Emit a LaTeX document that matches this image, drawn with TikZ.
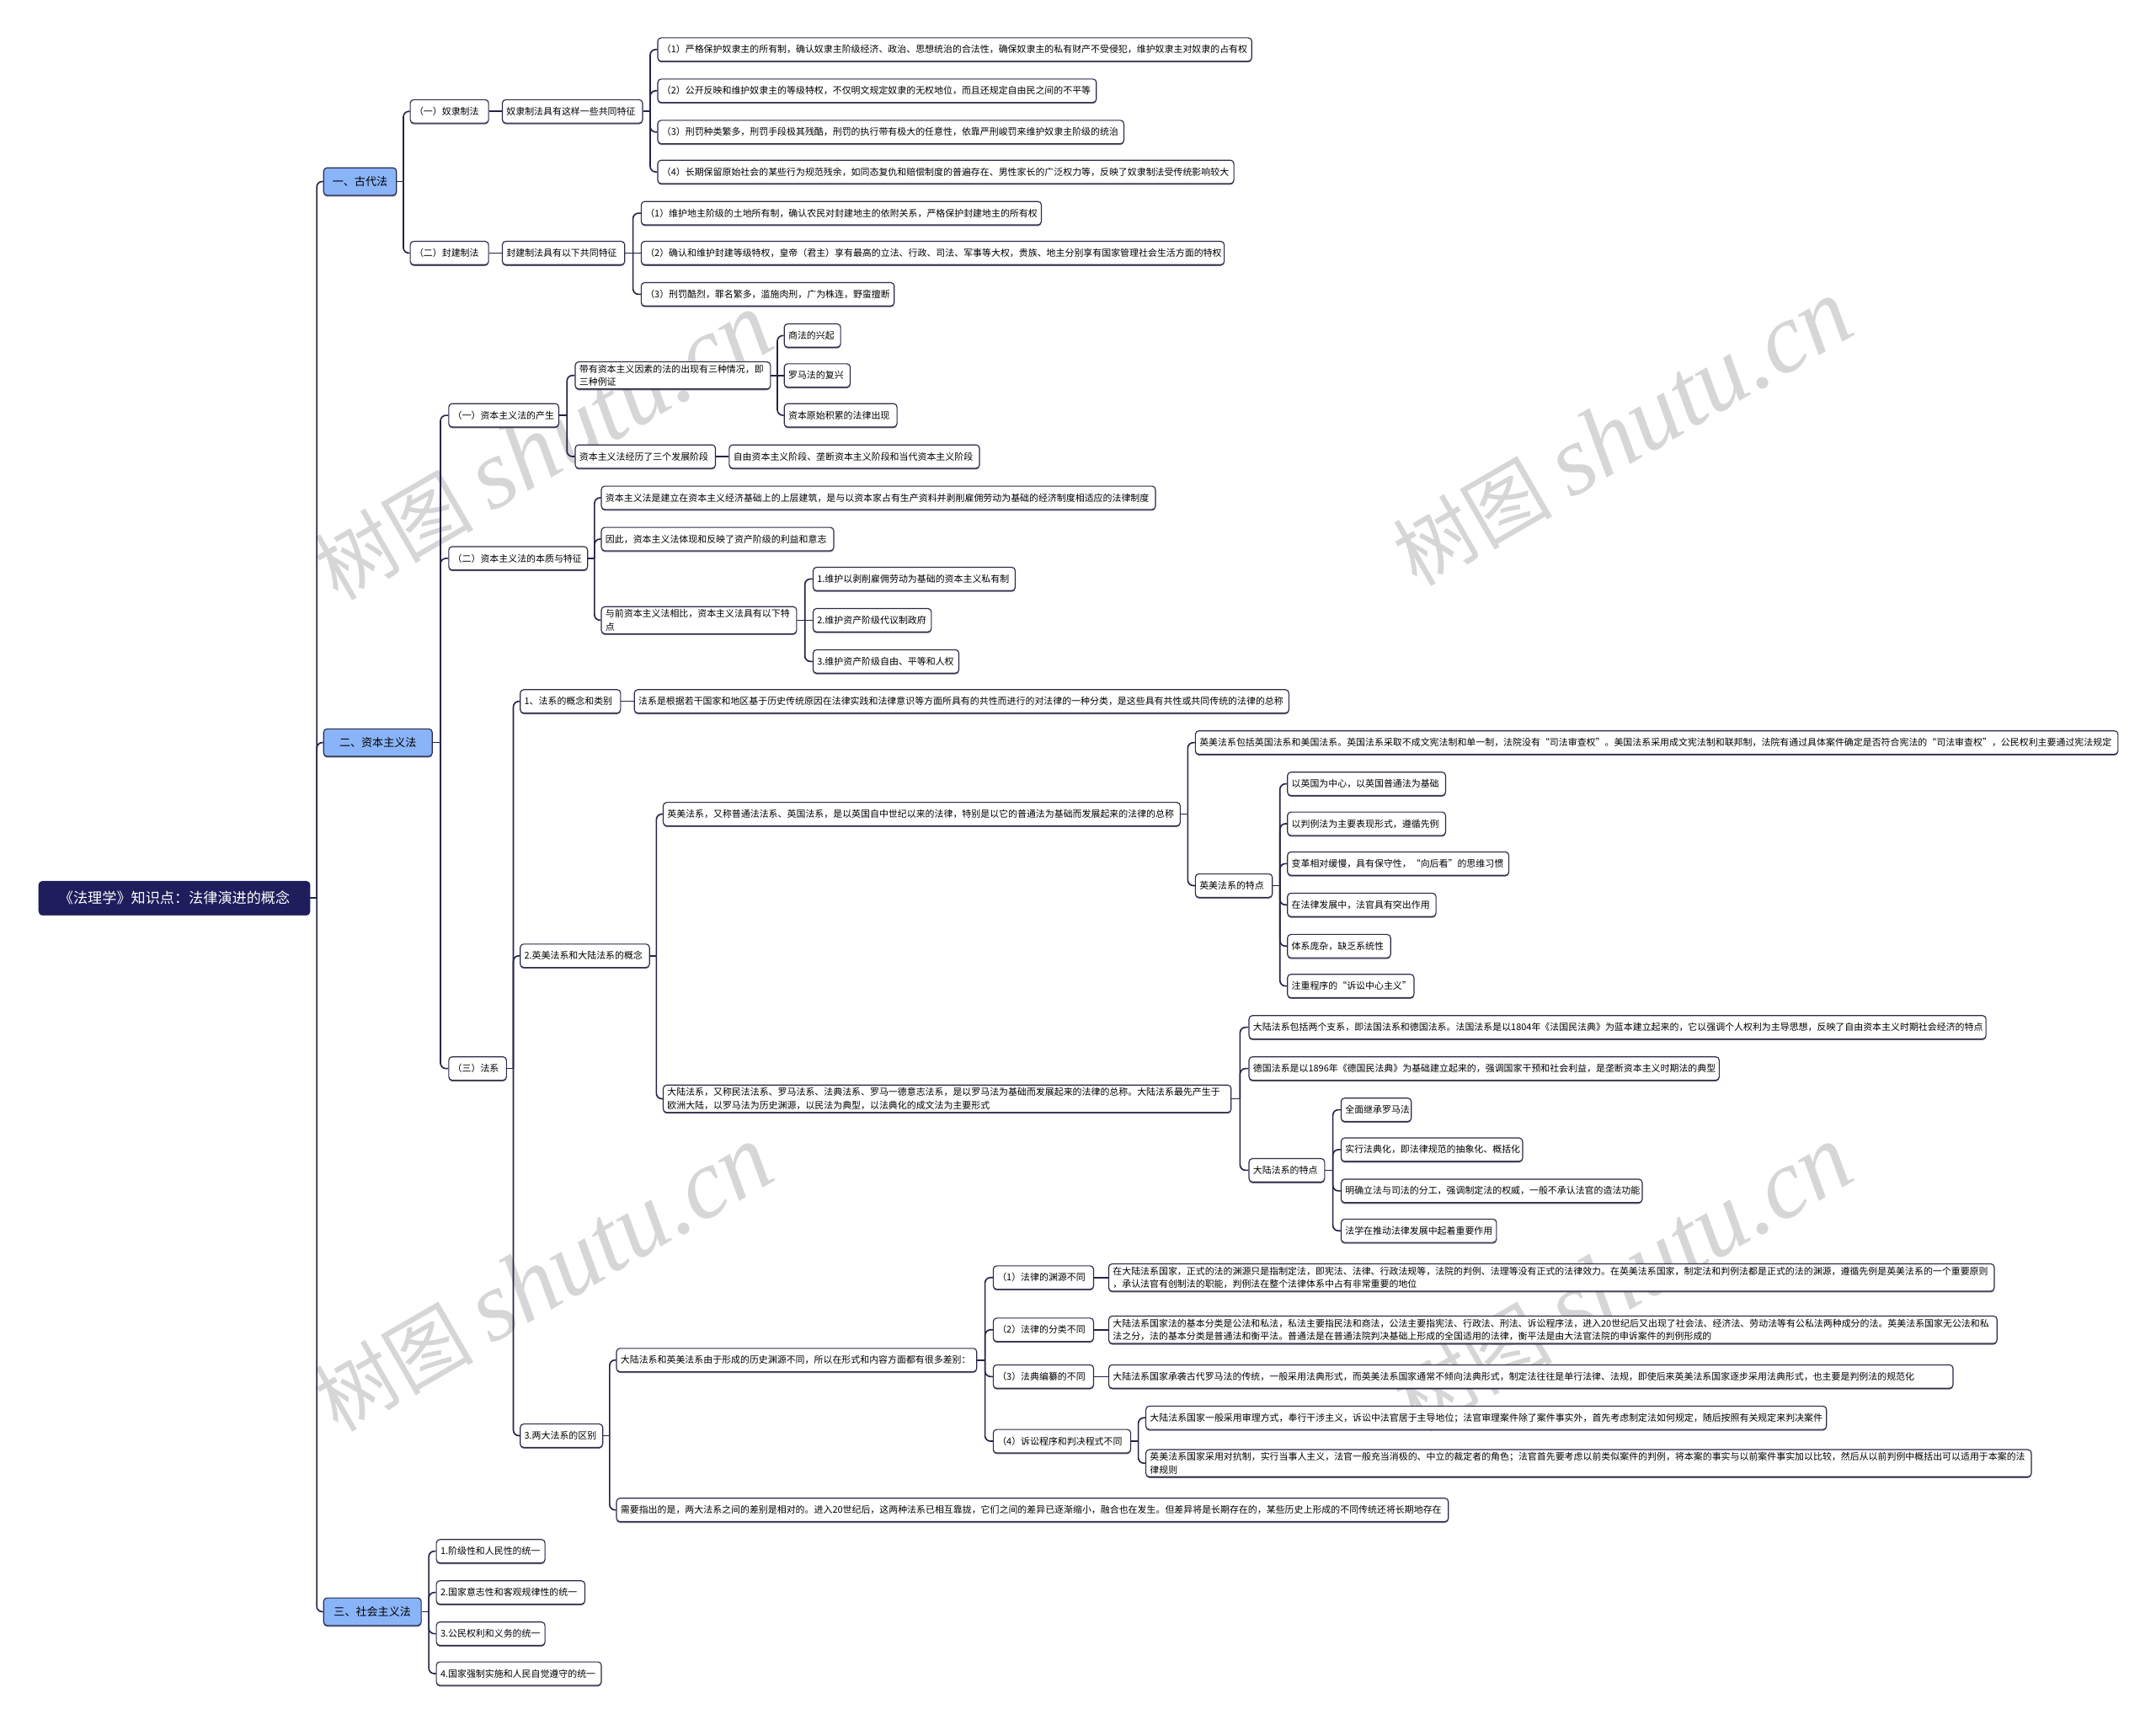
\documentclass[tikz,border=0pt]{standalone}
\usepackage{fontspec}
\setmainfont{Noto Sans CJK SC}
\newfontfamily\wmserif{Liberation Serif}
\usetikzlibrary{calc,shadows}
\definecolor{navy}{HTML}{1F1D5C}
\definecolor{lblue}{HTML}{8AB4F8}
\definecolor{edgec}{HTML}{2A2A48}
\definecolor{connc}{HTML}{232347}
\tikzset{
  base/.style={draw=edgec, line width=0.7pt, rounded corners=2.5pt, inner xsep=3pt, inner ysep=2pt,
    minimum height=17pt, fill=white,
    drop shadow={shadow xshift=0pt, shadow yshift=-0.9pt, fill=edgec, opacity=0.7}},
  leafbox/.style={base, align=left, anchor=west, font=\fontsize{6.7}{9.5}\selectfont},
  lonebox/.style={base, fill=lblue, anchor=west, minimum height=20pt, font=\fontsize{8}{10}\selectfont},
  rootbox/.style={base, fill=navy, draw=navy, text=white, anchor=west, minimum height=24pt, font=\fontsize{10.5}{12}\selectfont},
  conn/.style={draw=connc, line width=1pt},
  elbow/.style={conn, rounded corners=4pt},
  wm/.style={rotate=30, text=black!16, inner sep=0pt}
}
\newcommand{\leaf}[5]{\pgfmathsetmacro\tw{#4-6}\node[leafbox, text width=\tw pt] (#1) at (#2,#3) {#5};}
\newcommand{\branch}[3]{%
  \coordinate (#1-j) at ($(#1.east)!0.5!(#1.east -| #2.west)$);
  \draw[conn] (#1.east) -- (#1-j);
  \foreach \c in {#3} {\draw[elbow] (#1-j) |- (\c.west);}
}
\newcommand{\straight}[2]{\draw[conn] (#1.east) -- (#2.west);}
\begin{document}
\begin{tikzpicture}[x=1pt,y=-1pt]
\useasboundingbox (0,0) rectangle (1568,1254);
% watermarks
\foreach \wx/\wy in {395/325, 1180/315, 395/930, 1180/930}{
  \node[wm] at (\wx,\wy) {\fontsize{58}{60}\selectfont 树图 {\wmserif\itshape\fontsize{72}{74}\selectfont shutu.cn}};
}
% root and level 1
\node[rootbox, minimum width=197pt] (R) at (28,653) {《法理学》知识点：法律演进的概念};
\node[lonebox, minimum width=53pt] (A) at (235,132) {一、古代法};
\node[lonebox, minimum width=79pt] (B) at (235,540) {二、资本主义法};
\node[lonebox, minimum width=71pt] (C) at (235,1172) {三、社会主义法};
% ancient law
\leaf{A1}{298}{81}{57}{（一）奴隶制法}
\leaf{A2}{298}{184}{57}{（二）封建制法}
\leaf{A1a}{365}{81}{102}{奴隶制法具有这样一些共同特征}
\leaf{A2a}{365}{184}{89}{封建制法具有以下共同特征}
\leaf{A1a1}{478}{36}{432}{（1）严格保护奴隶主的所有制，确认奴隶主阶级经济、政治、思想统治的合法性，确保奴隶主的私有财产不受侵犯，维护奴隶主对奴隶的占有权}
\leaf{A1a2}{478}{66}{319}{（2）公开反映和维护奴隶主的等级特权，不仅明文规定奴隶的无权地位，而且还规定自由民之间的不平等}
\leaf{A1a3}{478}{96}{339}{（3）刑罚种类繁多，刑罚手段极其残酷，刑罚的执行带有极大的任意性，依靠严刑峻罚来维护奴隶主阶级的统治}
\leaf{A1a4}{478}{125}{419}{（4）长期保留原始社会的某些行为规范残余，如同态复仇和赔偿制度的普遍存在、男性家长的广泛权力等，反映了奴隶制法受传统影响较大}
\leaf{A2a1}{466}{155}{291}{（1）维护地主阶级的土地所有制，确认农民对封建地主的依附关系，严格保护封建地主的所有权}
\leaf{A2a2}{466}{184}{424}{（2）确认和维护封建等级特权，皇帝（君主）享有最高的立法、行政、司法、军事等大权，贵族、地主分别享有国家管理社会生活方面的特权}
\leaf{A2a3}{466}{214}{184}{（3）刑罚酷烈，罪名繁多，滥施肉刑，广为株连，野蛮擅断}
% capitalist law
\leaf{B1}{326}{302}{80}{（一）资本主义法的产生}
\leaf{B2}{326}{406}{101}{（二）资本主义法的本质与特征}
\leaf{B3}{326}{777}{42}{（三）法系}
\leaf{B1a}{418}{273}{142}{带有资本主义因素的法的出现有三种情况，即\\三种例证}
\leaf{B1b}{418}{332}{102}{资本主义法经历了三个发展阶段}
\leaf{B1a1}{570}{244}{41}{商法的兴起}
\leaf{B1a2}{570}{273}{48}{罗马法的复兴}
\leaf{B1a3}{570}{302}{82}{资本原始积累的法律出现}
\leaf{B1b1}{530}{332}{182}{自由资本主义阶段、垄断资本主义阶段和当代资本主义阶段}
\leaf{B2a}{437}{362}{403}{资本主义法是建立在资本主义经济基础上的上层建筑，是与以资本家占有生产资料并剥削雇佣劳动为基础的经济制度相适应的法律制度}
\leaf{B2b}{437}{392}{169}{因此，资本主义法体现和反映了资产阶级的利益和意志}
\leaf{B2c}{437}{451}{142}{与前资本主义法相比，资本主义法具有以下特\\点}
\leaf{B2c1}{591}{421}{147}{1.维护以剥削雇佣劳动为基础的资本主义私有制}
\leaf{B2c2}{591}{451}{86}{2.维护资产阶级代议制政府}
\leaf{B2c3}{591}{481}{106}{3.维护资产阶级自由、平等和人权}
\leaf{B3a}{378}{510}{73}{1、法系的概念和类别}
\leaf{B3a1}{461}{510}{476}{法系是根据若干国家和地区基于历史传统原因在法律实践和法律意识等方面所具有的共性而进行的对法律的一种分类，是这些具有共性或共同传统的法律的总称}
\leaf{B3b}{378}{695}{94}{2.英美法系和大陆法系的概念}
\leaf{B3c}{378}{1044}{60}{3.两大法系的区别}
\leaf{B3b1}{482}{592}{376}{英美法系，又称普通法法系、英国法系，是以英国自中世纪以来的法律，特别是以它的普通法为基础而发展起来的法律的总称}
\leaf{B3b2}{482}{799}{413}{大陆法系，又称民法法系、罗马法系、法典法系、罗马一德意志法系，是以罗马法为基础而发展起来的法律的总称。大陆法系最先产生于\\欧洲大陆，以罗马法为历史渊源，以民法为典型，以法典化的成文法为主要形式}
\leaf{B3b1a}{869}{540}{671}{英美法系包括英国法系和美国法系。英国法系采取不成文宪法制和单一制，法院没有“司法审查权”。美国法系采用成文宪法制和联邦制，法院有通过具体案件确定是否符合宪法的“司法审查权”，公民权利主要通过宪法规定}
\leaf{B3b1b}{869}{644}{56}{英美法系的特点}
\leaf{E1}{936}{570}{115}{以英国为中心，以英国普通法为基础}
\leaf{E2}{936}{599}{115}{以判例法为主要表现形式，遵循先例}
\leaf{E3}{936}{628}{161}{变革相对缓慢，具有保守性，“向后看”的思维习惯}
\leaf{E4}{936}{658}{108}{在法律发展中，法官具有突出作用}
\leaf{E5}{936}{688}{75}{体系庞杂，缺乏系统性}
\leaf{E6}{936}{717}{92}{注重程序的“诉讼中心主义”}
\leaf{B3b2a}{908}{747}{536}{大陆法系包括两个支系，即法国法系和德国法系。法国法系是以1804年《法国民法典》为蓝本建立起来的，它以强调个人权利为主导思想，反映了自由资本主义时期社会经济的特点}
\leaf{B3b2b}{908}{777}{342}{德国法系是以1896年《德国民法典》为基础建立起来的，强调国家干预和社会利益，是垄断资本主义时期法的典型}
\leaf{B3b2c}{908}{851}{55}{大陆法系的特点}
\leaf{D1}{975}{807}{51}{全面继承罗马法}
\leaf{D2}{975}{836}{132}{实行法典化，即法律规范的抽象化、概括化}
\leaf{D3}{975}{866}{219}{明确立法与司法的分工，强调制定法的权威，一般不承认法官的造法功能}
\leaf{D4}{975}{895}{113}{法学在推动法律发展中起着重要作用}
\leaf{B3c1}{448}{989}{262}{大陆法系和英美法系由于形成的历史渊源不同，所以在形式和内容方面都有很多差别：}
\leaf{B3c2}{448}{1098}{605}{需要指出的是，两大法系之间的差别是相对的。进入20世纪后，这两种法系已相互靠拢，它们之间的差异已逐渐缩小，融合也在发生。但差异将是长期存在的，某些历史上形成的不同传统还将长期地存在}
\leaf{F1}{722}{929}{73}{（1）法律的渊源不同}
\leaf{F2}{722}{967}{73}{（2）法律的分类不同}
\leaf{F3}{722}{1001}{73}{（3）法典编纂的不同}
\leaf{F4}{722}{1048}{100}{（4）诉讼程序和判决程式不同}
\leaf{F1a}{806}{929}{644}{在大陆法系国家，正式的法的渊源只是指制定法，即宪法、法律、行政法规等，法院的判例、法理等没有正式的法律效力。在英美法系国家，制定法和判例法都是正式的法的渊源，遵循先例是英美法系的一个重要原则\\，承认法官有创制法的职能，判例法在整个法律体系中占有非常重要的地位}
\leaf{F2a}{806}{967}{646}{大陆法系国家法的基本分类是公法和私法，私法主要指民法和商法，公法主要指宪法、行政法、刑法、诉讼程序法，进入20世纪后又出现了社会法、经济法、劳动法等有公私法两种成分的法。英美法系国家无公法和私\\法之分，法的基本分类是普通法和衡平法。普通法是在普通法院判决基础上形成的全国适用的法律，衡平法是由大法官法院的申诉案件的判例形成的}
\leaf{F3a}{806}{1001}{614}{大陆法系国家承袭古代罗马法的传统，一般采用法典形式，而英美法系国家通常不倾向法典形式，制定法往往是单行法律、法规，即使后来英美法系国家逐步采用法典形式，也主要是判例法的规范化}
\leaf{F4a}{833}{1031}{495}{大陆法系国家一般采用审理方式，奉行干涉主义，诉讼中法官居于主导地位；法官审理案件除了案件事实外，首先考虑制定法如何规定，随后按照有关规定来判决案件}
\leaf{F4b}{833}{1064}{644}{英美法系国家采用对抗制，实行当事人主义，法官一般充当消极的、中立的裁定者的角色；法官首先要考虑以前类似案件的判例，将本案的事实与以前案件事实加以比较，然后从以前判例中概括出可以适用于本案的法\\律规则}
% socialist law
\leaf{C1}{317}{1128}{79}{1.阶级性和人民性的统一}
\leaf{C2}{317}{1158}{108}{2.国家意志性和客观规律性的统一}
\leaf{C3}{317}{1188}{79}{3.公民权利和义务的统一}
\leaf{C4}{317}{1217}{120}{4.国家强制实施和人民自觉遵守的统一}
% connectors
\branch{R}{A}{A,B,C}
\branch{A}{A1}{A1,A2}
\straight{A1}{A1a}
\straight{A2}{A2a}
\branch{A1a}{A1a1}{A1a1,A1a2,A1a3,A1a4}
\branch{A2a}{A2a1}{A2a1,A2a3}
\straight{A2a}{A2a2}
\branch{B}{B1}{B1,B2,B3}
\branch{B1}{B1a}{B1a,B1b}
\branch{B1a}{B1a1}{B1a1,B1a3}
\straight{B1a}{B1a2}
\straight{B1b}{B1b1}
\branch{B2}{B2a}{B2a,B2b,B2c}
\branch{B2c}{B2c1}{B2c1,B2c3}
\straight{B2c}{B2c2}
\branch{B3}{B3a}{B3a,B3b,B3c}
\straight{B3a}{B3a1}
\branch{B3b}{B3b1}{B3b1,B3b2}
\branch{B3b1}{B3b1a}{B3b1a,B3b1b}
\branch{B3b1b}{E1}{E1,E2,E3,E4,E5,E6}
\branch{B3b2}{B3b2a}{B3b2a,B3b2b,B3b2c}
\branch{B3b2c}{D1}{D1,D2,D3,D4}
\branch{B3c}{B3c1}{B3c1,B3c2}
\branch{B3c1}{F1}{F1,F2,F3,F4}
\straight{F1}{F1a}
\straight{F2}{F2a}
\straight{F3}{F3a}
\branch{F4}{F4a}{F4a,F4b}
\branch{C}{C1}{C1,C2,C3,C4}
\end{tikzpicture}
\end{document}
